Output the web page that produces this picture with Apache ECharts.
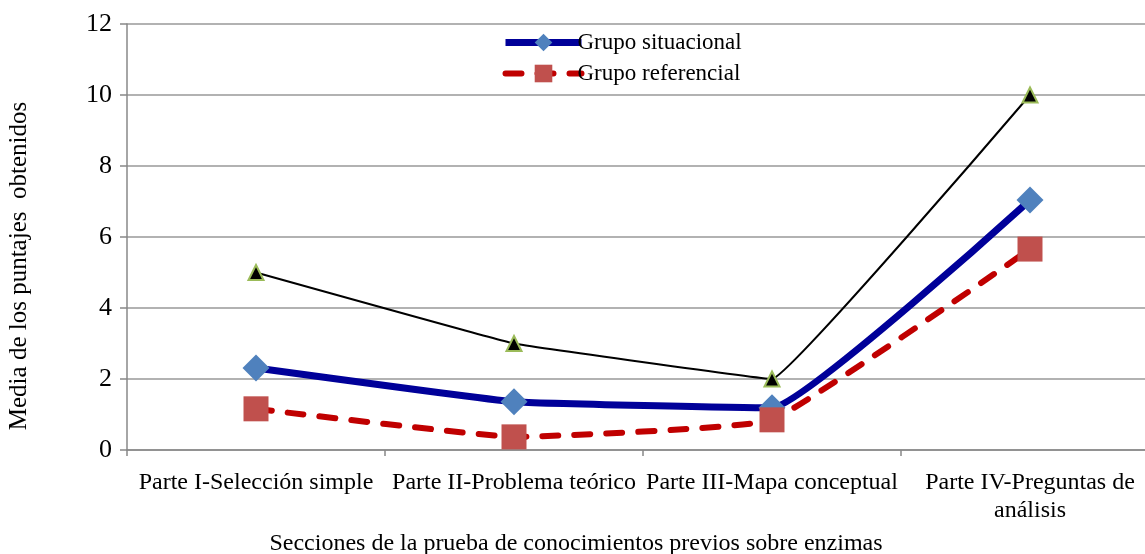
<!DOCTYPE html>
<html><head><meta charset="utf-8">
<script src="https://cdn.jsdelivr.net/npm/echarts@6/dist/echarts.min.js"></script>
<style>html,body{margin:0;padding:0;background:#fff}#c{width:1145px;height:554px}</style>
</head><body><div id="c"></div>
<script>
const categories = ['Parte I-Selección simple','Parte II-Problema teórico','Parte III-Mapa conceptual','Parte IV-Preguntas de\nanálisis'];
const situacional = [2.31, 1.36, 1.19, 7.04];
const referencial = [1.16, 0.37, 0.85, 5.66];
const maximo = [5, 3, 2, 10];
const yTicks = {min:0, max:12, interval:2};
const F = '"Liberation Serif","Times New Roman",serif';
const chart = echarts.init(document.getElementById('c'));
chart.setOption({
  animation:false,
  textStyle:{fontFamily:F},
  grid:{left:127, width:1032, top:24, height:426, containLabel:false, outerBoundsMode:'none'},
  legend:{
    orient:'vertical', left:497, top:26, itemGap:8, itemWidth:76, itemHeight:22,
    textStyle:{fontFamily:F, fontSize:23, color:'#000', padding:[0,0,0,-9]},
    data:[
      {name:'Grupo situacional', lineStyle:{width:7}},
      {name:'Grupo referencial', lineStyle:{width:6}}
    ]
  },
  xAxis:{
    type:'category', data:categories, boundaryGap:true,
    name:'Secciones de la prueba de conocimientos previos sobre enzimas',
    nameLocation:'middle', nameGap:82,
    nameTextStyle:{fontFamily:F, fontSize:24, color:'#000', padding:[0,134,0,0]},
    axisLine:{lineStyle:{color:'#888', width:1.5}},
    axisTick:{show:true, alignWithLabel:false, length:6, lineStyle:{color:'#888', width:1.5}},
    axisLabel:{fontFamily:F, fontSize:24, color:'#000', margin:19, interval:0, lineHeight:28}
  },
  yAxis:{
    type:'value', min:yTicks.min, max:yTicks.max, interval:yTicks.interval,
    name:'Media de los puntajes  obtenidos', nameLocation:'middle', nameGap:95,
    nameTextStyle:{fontFamily:F, fontSize:25, color:'#000', padding:[0,58,0,0]},
    axisLine:{show:true, lineStyle:{color:'#888', width:1.5}},
    axisTick:{show:true, length:7, lineStyle:{color:'#888', width:1.5}},
    axisLabel:{fontFamily:F, fontSize:26, color:'#000', margin:15},
    splitLine:{lineStyle:{color:'#999', width:1.5}}
  },
  series:[
    {name:'Máximo', type:'line', data:maximo, smooth:0.05, symbol:'triangle', symbolSize:15,
     lineStyle:{color:'#000', width:2}, itemStyle:{color:'#000', borderColor:'#9BBB59', borderWidth:2}, z:3},
    {name:'Grupo situacional', type:'line', data:situacional, smooth:0.1, symbol:'diamond', symbolSize:27,
     lineStyle:{color:'#000099', width:7}, itemStyle:{color:'#4F81BD'}, z:4},
    {name:'Grupo referencial', type:'line', data:referencial, smooth:0.1, symbol:'rect', symbolSize:25,
     lineStyle:{color:'#C00000', width:6, type:[16,16], cap:'round'}, itemStyle:{color:'#C0504D'}, z:5}
  ]
});
</script></body></html>
